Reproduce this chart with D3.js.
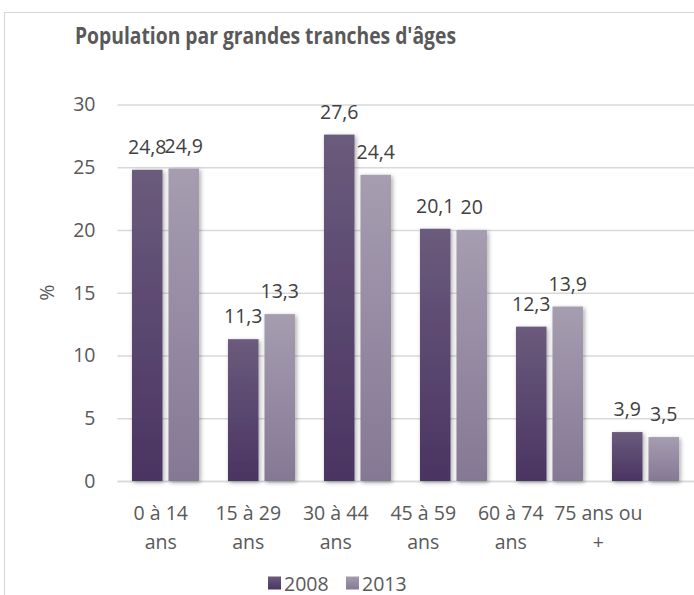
<!DOCTYPE html>
<html>
<head>
<meta charset="utf-8">
<script src="https://cdn.jsdelivr.net/npm/d3@7.9.0/dist/d3.min.js"></script>
<style>
  html, body { margin: 0; padding: 0; background: #fff; }
  svg { display: block; font-family: 'Open Sans', sans-serif; }
</style>
</head>
<body>
<svg id="chart" width="694" height="595"></svg>
<script>
// données
const categories = ['0 à 14 ans', '15 à 29 ans', '30 à 44 ans', '45 à 59 ans', '60 à 74 ans', '75 ans ou +'];
const series = ['2008', '2013'];
const values2008 = [24.8, 11.3, 27.6, 20.1, 12.3, 3.9];
const values2013 = [24.9, 13.3, 24.4, 20, 13.9, 3.5];
const yTicks = [0, 5, 10, 15, 20, 25, 30];

const svg = d3.select('#chart');
const W = 694, H = 595;

const colors = {
  '2008': ['#6b5b7c', '#4a3462'],
  '2013': ['#a69db0', '#857895']
};

const defs = svg.append('defs');
series.forEach(s => {
  const g = defs.append('linearGradient')
    .attr('id', 'grad' + s)
    .attr('x1', 0).attr('y1', 0).attr('x2', 0).attr('y2', 1);
  g.append('stop').attr('offset', '0%').attr('stop-color', colors[s][0]);
  g.append('stop').attr('offset', '100%').attr('stop-color', colors[s][1]);
});
defs.append('filter').attr('id', 'shadow')
  .attr('x', '-30%').attr('y', '-10%').attr('width', '160%').attr('height', '130%')
  .append('feDropShadow')
  .attr('dx', 1.5).attr('dy', 1.5).attr('stdDeviation', 2)
  .attr('flood-color', '#000').attr('flood-opacity', 0.35);

// cadre
svg.append('rect').attr('width', W).attr('height', H).attr('fill', '#fff');
svg.append('rect')
  .attr('x', 4.5).attr('y', 12.5).attr('width', W + 20).attr('height', H + 20)
  .attr('fill', 'none').attr('stroke', '#d9d9d9').attr('stroke-width', 1.2);

// titre (un peu compressé pour imiter la police étroite d'origine)
svg.append('text')
  .attr('x', 265.5).attr('y', 44)
  .attr('text-anchor', 'middle')
  .attr('font-size', 23).attr('font-weight', 'bold')
  .attr('textLength', 381).attr('lengthAdjust', 'spacingAndGlyphs')
  .attr('fill', '#595959')
  .text("Population par grandes tranches d'âges");

// échelles
const y = d3.scaleLinear().domain([0, 30]).range([481, 104.5]);
const x = d3.scaleBand().domain(categories).range([117.5, 693.5])
  .paddingInner(0.302).paddingOuter(0.151);
const x1 = d3.scaleBand().domain(series).range([0, x.bandwidth()]).paddingInner(0.164);
const xLabel = d3.scaleBand().domain(categories).range([117, 642]);

// grille + axe Y
const yAxis = svg.append('g')
  .attr('transform', 'translate(117.5,0)')
  .call(d3.axisLeft(y).tickValues(yTicks).tickSizeInner(-(W - 117.5)).tickSizeOuter(0).tickPadding(22).tickFormat(d3.format('d')));
yAxis.select('.domain').remove();
yAxis.selectAll('.tick line')
  .attr('stroke', '#d9d9d9')
  .attr('stroke-width', d => d === 0 ? 2 : 1.3);
yAxis.selectAll('.tick text')
  .attr('fill', '#595959').attr('font-size', 19.5)
  .attr('font-family', "'Open Sans', sans-serif");

svg.append('text')
  .attr('transform', `translate(48.5,${(y(0) + y(30)) / 2}) rotate(-90)`)
  .attr('text-anchor', 'middle').attr('dominant-baseline', 'middle')
  .attr('font-size', 19.5).attr('fill', '#595959')
  .text('%');

// barres
const rows = categories.map((c, i) => ({ cat: c, vals: [
  { s: '2008', v: values2008[i] },
  { s: '2013', v: values2013[i] }
]}));

const groups = svg.append('g').selectAll('g')
  .data(rows).join('g')
  .attr('transform', d => `translate(${x(d.cat)},0)`);

groups.selectAll('rect')
  .data(d => d.vals).join('rect')
  .attr('x', d => x1(d.s))
  .attr('y', d => y(d.v))
  .attr('width', x1.bandwidth())
  .attr('height', d => y(0) - y(d.v))
  .attr('fill', d => `url(#grad${d.s})`)
  .attr('filter', 'url(#shadow)');

groups.selectAll('text')
  .data(d => d.vals).join('text')
  .attr('x', d => x1(d.s) + x1.bandwidth() / 2)
  .attr('y', d => y(d.v) - 16)
  .attr('text-anchor', 'middle')
  .attr('font-size', 19.5).attr('fill', '#404040')
  .text(d => String(d.v).replace('.', ','));

// étiquettes des catégories
const xAxis = svg.append('g')
  .attr('transform', 'translate(0,481)')
  .call(d3.axisBottom(xLabel).tickSize(0).tickPadding(0));
xAxis.select('.domain').remove();
xAxis.selectAll('.tick text').each(function(d) {
  const t = d3.select(this);
  const k = d.lastIndexOf(' ');
  const lines = [d.slice(0, k), d.slice(k + 1)];
  t.text(null).attr('y', 0).attr('dy', null)
    .attr('fill', '#595959').attr('font-size', 19.5)
    .attr('font-family', "'Open Sans', sans-serif");
  lines.forEach((l, i) => {
    t.append('tspan').attr('x', 0).attr('y', 39 + i * 29).text(l);
  });
});

// légende
const legend = svg.append('g').attr('transform', 'translate(268,583)');
const legX = { '2008': 0, '2013': 78 };
series.forEach(s => {
  const g = legend.append('g').attr('transform', `translate(${legX[s]},0)`);
  g.append('rect').attr('x', 0).attr('y', -6.5).attr('width', 13).attr('height', 13)
    .attr('fill', `url(#grad${s})`);
  g.append('text').attr('x', 16).attr('y', 0).attr('dominant-baseline', 'central')
    .attr('font-size', 19.5).attr('fill', '#595959').text(s);
});
</script>
</body>
</html>
